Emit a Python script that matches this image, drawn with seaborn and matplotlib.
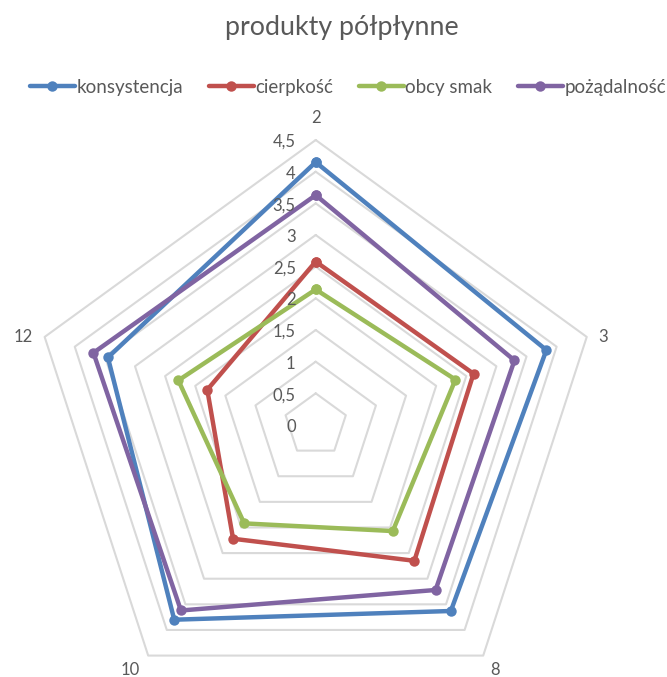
import numpy as np
import pandas as pd
import matplotlib
matplotlib.use("Agg")
import matplotlib.pyplot as plt
from matplotlib.lines import Line2D
import seaborn as sns

# Sensory scores per sample
categories = ["2", "3", "8", "10", "12"]
konsystencja = [4.15, 3.83, 3.63, 3.80, 3.45]
cierpkosc = [2.58, 2.62, 2.65, 2.22, 1.80]
obcy_smak = [2.14, 2.32, 2.07, 1.92, 2.28]
pozadalnosc = [3.63, 3.30, 3.22, 3.62, 3.69]
series_names = ["konsystencja", "cierpkość", "obcy smak", "pożądalność"]
series_values = [konsystencja, cierpkosc, obcy_smak, pozadalnosc]
colors = ["#4F81BD", "#C0504D", "#9BBB59", "#8064A2"]
levels = [0.5, 1.0, 1.5, 2.0, 2.5, 3.0, 3.5, 4.0, 4.5]
level_labels = ["0", "0,5", "1", "1,5", "2", "2,5", "3", "3,5", "4", "4,5"]
title = "produkty półpłynne"

sns.set_style("white")
plt.rcParams["font.family"] = ["Lato", "DejaVu Sans"]
text_color = "#595959"
grid_color = "#D9D9D9"

W, H = 667, 677
fig = plt.figure(figsize=(W / 100, H / 100), dpi=100)
R = 285.0
cx, cy = 315.7, 425.0
ax = fig.add_axes([(cx - R) / W, (H - cy - R) / H, 2 * R / W, 2 * R / H],
                  projection="polar")
ax.set_theta_zero_location("N")
ax.set_theta_direction(-1)
ax.set_ylim(0, levels[-1])
ax.set_axis_off()
ax.patch.set_alpha(0)

n = len(categories)
theta = np.arange(n) * 2 * np.pi / n
theta_closed = np.append(theta, 2 * np.pi)

# pentagon gridlines
for v in levels:
    ax.plot(theta_closed, [v] * (n + 1), color=grid_color, lw=1.5, zorder=1,
            clip_on=False)

# long-format table, each series closed back to its first point
rows = []
for name, vals in zip(series_names, series_values):
    closed = list(vals) + [vals[0]]
    for t, v in zip(theta_closed, closed):
        rows.append({"theta": t, "value": v, "series": name})
df = pd.DataFrame(rows)

sns.lineplot(data=df, x="theta", y="value", hue="series", hue_order=series_names,
             palette=colors, sort=False, estimator=None, marker="o",
             markersize=7.5, markeredgewidth=0, linewidth=3.2, legend=False,
             ax=ax, zorder=3)
for line in ax.get_lines():
    line.set_clip_on(False)

# category labels around the outer ring
cat_offsets = [(0, 22), (16, 0), (12, -14), (-18, -14), (-21, 0)]
for t, lab, off in zip(theta, categories, cat_offsets):
    ax.annotate(lab, xy=(t, levels[-1]), xytext=off, textcoords="offset pixels",
                ha="center", va="center", fontsize=12, color=text_color,
                annotation_clip=False)

# value labels along the top axis
for v, lab in zip([0.0] + levels, level_labels):
    ax.annotate(lab, xy=(0, v), xytext=(-20, -2), textcoords="offset pixels",
                ha="right", va="center", fontsize=12, color=text_color,
                annotation_clip=False)

fig.text(342 / W, 1 - 28 / H, title, ha="center", va="center",
         fontsize=19.3, color=text_color)

handles = [Line2D([], [], color=c, lw=3.2, marker="o", markersize=7.5,
                  markeredgewidth=0) for c in colors]
leg = fig.legend(handles, series_names, loc="center",
                 bbox_to_anchor=(348 / W, 1 - 87 / H), ncol=4, frameon=False,
                 fontsize=13.5, handlelength=2.4, handletextpad=0.1,
                 columnspacing=1.35)
for t in leg.get_texts():
    t.set_color(text_color)

fig.savefig("out.png", dpi=100)
